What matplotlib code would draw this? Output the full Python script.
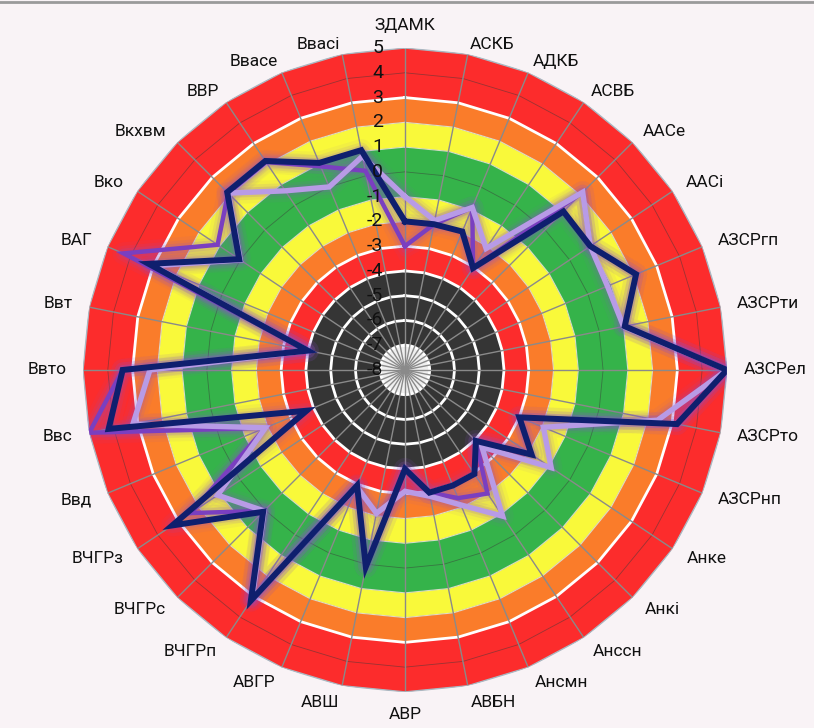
import numpy as np
import matplotlib
matplotlib.use("Agg")
import matplotlib.pyplot as plt
from matplotlib.transforms import ScaledTranslation

plt.rcParams['font.family'] = ['Roboto', 'DejaVu Sans']

categories = ["ЗДАМК", "АСКБ", "АДКБ", "АСВБ", "ААСе", "ААСі", "АЗСРгп", "АЗСРти",
              "АЗСРел", "АЗСРто", "АЗСРнп", "Анке", "Анкі", "Анссн", "Ансмн", "АВБН",
              "АВР", "АВШ", "АВГР", "ВЧГРп", "ВЧГРс", "ВЧГРз", "Ввд", "Ввс",
              "Ввто", "Ввт", "ВАГ", "Вко", "Вкхвм", "ВВР", "Ввасе", "Ввасі"]

# three series
navy = [-2.0, -2.0, -1.95, -3.05, 1.05, 1.0, 2.1, 1.05,
        5.0, 3.2, -3.0, -1.85, -3.95, -2.95, -2.95, -2.95,
        -4.0, 0.1, -2.95, 3.2, 0.1, 3.3, -3.7, 4.2,
        3.4, -4.0, 3.2, 0.05, 2.15, 2.15, 1.05, 1.05]
lavender = [-1.0, -1.85, -0.9, -2.1, 2.15, 1.0, 0.85, 1.0,
            5.0, 2.4, -1.95, -0.9, -3.6, -0.9, -2.1, -2.8,
            -3.1, -2.1, -2.9, 3.1, 0.05, 1.1, -1.9, 3.2,
            2.3, -4.0, 3.0, 0.0, 2.1, 0.7, 0.0, 0.8]
purple = [-3.0, -2.0, -0.9, -3.05, 2.15, 1.0, 2.1, 1.05,
          5.0, 3.2, -3.0, -1.85, -3.95, -2.0, -2.4, -2.95,
          -4.0, 0.1, -2.95, 3.2, 0.05, 2.4, -1.9, 5.0,
          3.4, -4.0, 4.3, 1.1, 2.1, 2.1, 0.9, 0.2]

ticks = list(range(-8, 6))
# colour zones (upper edge of each filled ring, painted outside-in)
zone_tops = [5, 3, 2, 1, -1, -2, -3, -4, -7]
zone_cols = ['#fc2c2c', '#fa7c2a', '#f9f93a', '#35b34a', '#f9f93a',
             '#fa7c2a', '#fc2c2c', '#353535', '#efefef']

bg = '#f9f3f6'
n = len(categories)
theta = np.arange(n) * 2 * np.pi / n
th = np.append(theta, theta[0])

def ring(v):
    return np.full(n + 1, v, dtype=float)

def closed(a):
    return np.append(a, a[0])

fig = plt.figure(figsize=(8.14, 7.28), dpi=100, facecolor=bg)
ax = fig.add_axes([0.102, 0.0495, 0.791, 0.8846], projection='polar')
ax.set_theta_zero_location('N')
ax.set_theta_direction(-1)
ax.set_ylim(-8, 5)
ax.axis('off')

for top, col in zip(zone_tops, zone_cols):
    ax.fill(th, ring(top), color=col, lw=0, zorder=1)

# dark thin gridlines at every integer
for v in ticks[1:-1]:
    ax.plot(th, ring(v), color='#3a3a3a', lw=0.6, alpha=0.5, zorder=2)
# white separators
for v in [-7, -6, -5, -4, -3, 3]:
    ax.plot(th, ring(v), color='white', lw=2, zorder=3)
for v in [-2, -1, 1, 2]:
    ax.plot(th, ring(v), color='white', lw=0.8, alpha=0.7, zorder=3)

for t in theta:
    ax.plot([t, t], [-8, 5], color='#8a8a8a', lw=1, zorder=4)
ax.plot(th, ring(5), color='#aab8c2', lw=1, zorder=4)

# glow + lines
series = [(purple, '#7a3fc0', 3.2), (lavender, '#b89be6', 3.9), (navy, '#0f1f6e', 4.3)]
for vals, col, lw in series:
    for w, a in [(16, 0.06), (11, 0.10), (7, 0.16)]:
        ax.plot(th, closed(vals), color='#8b4fd0', lw=w, alpha=a,
                solid_joinstyle='round', zorder=5)
for k, (vals, col, lw) in enumerate(series):
    ax.plot(th, closed(vals), color=col, lw=lw, solid_joinstyle='miter', zorder=6 + k)

# radial tick labels left of the top spoke
off = ax.transData + ScaledTranslation(-0.22, 0, fig.dpi_scale_trans)
for v in ticks:
    ax.text(0, v, str(v), transform=off, ha='right', va='center',
            fontsize=14, color='#111111', zorder=10)

# category labels
for t, lab in zip(theta, categories):
    s, c = np.sin(t), np.cos(t)
    if abs(s) < 0.15:
        ax.text(t, 5.62, lab, ha='center', va='bottom' if c > 0 else 'top',
                fontsize=12.5, color='#111111', zorder=10)
    else:
        # Excel-style: labels near the top sit a little lower
        r = 5.68 - 0.3 * max(c, 0) ** 4
        ax.text(t, r, lab, ha='left' if s > 0 else 'right', va='center',
                fontsize=12.5, color='#111111', zorder=10)

fig.add_artist(plt.Line2D([0, 1], [0.997, 0.997], color='#9a9a9a', lw=2))

fig.savefig('out.png', dpi=100, facecolor=bg)
